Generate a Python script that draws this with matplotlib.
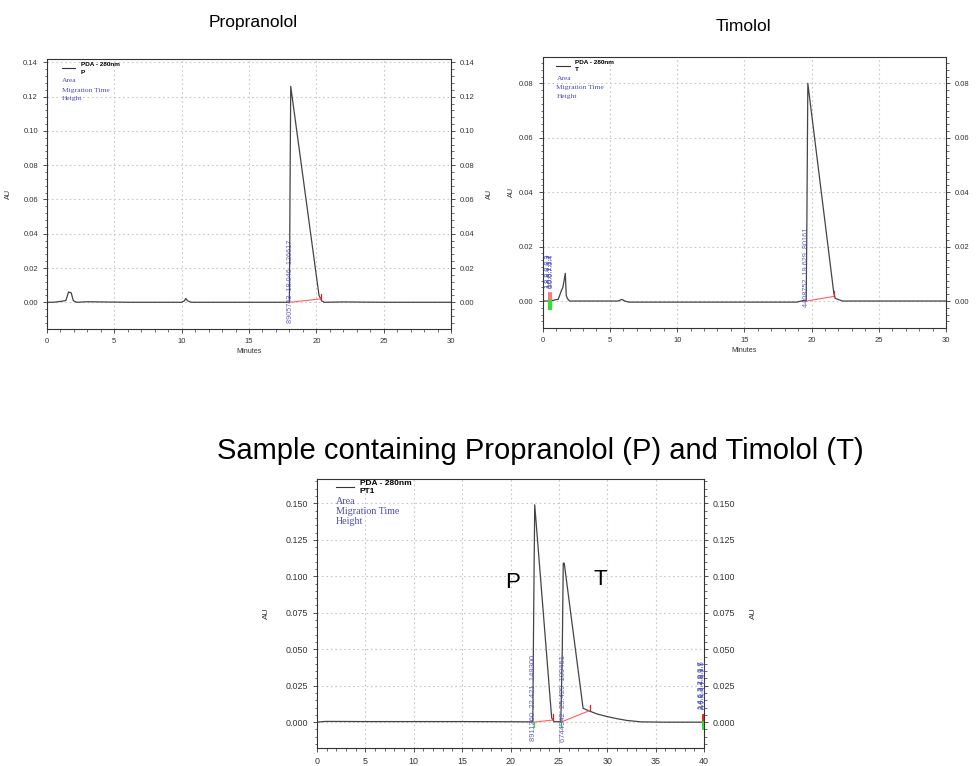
import matplotlib
matplotlib.use("Agg")
import matplotlib.pyplot as plt
from matplotlib.ticker import MultipleLocator, FormatStrFormatter
from matplotlib.lines import Line2D

plt.rcParams['font.family'] = ['Liberation Sans', 'DejaVu Sans']

# ---------------- data ----------------
prop_time = [0.0, 0.5, 1.0, 1.4, 1.6, 1.8, 1.95, 2.2, 3.0, 4.0, 6.0, 8.0, 10.0, 10.2, 10.3, 10.45,
             10.7, 13.0, 16.0, 18.0, 18.05, 18.1, 20.2, 20.4, 20.6, 22.0, 25.0, 28.0, 30.0]
prop_au = [0.0, 0.0, 0.0005, 0.001, 0.006, 0.0055, 0.001, 0.0, 0.0003, 0.0002, 0.0, 0.0, 0.0, 0.0008,
           0.0022, 0.0008, 0.0, 0.0, 0.0, 0.0, 0.068, 0.126, 0.004, 0.0008, 0.0, 0.0002, 0.0, 0.0, 0.0]
prop_base_t = [18.05, 20.35]
prop_base_au = [0.0, 0.002]
prop_label = "8905743  18.046  126617"
prop_label_t = 18.046

tim_time = [0.0, 0.5, 1.0, 1.15, 1.4, 1.5, 1.68, 1.75, 1.85, 2.0, 2.3, 5.6, 5.9, 6.1, 6.4, 10.0,
            15.0, 18.9, 19.4, 19.6, 19.65, 19.72, 21.65, 21.75, 22.3, 25.0, 27.0, 30.0]
tim_au = [0.0, 0.0, 0.0005, 0.0006, 0.004, 0.005, 0.0102, 0.002, 0.0008, 0.0, 0.0, 0.0, 0.0006, 0.0,
          -0.0004, -0.0004, -0.0004, -0.0004, 0.0002, 0.0, 0.03, 0.080, 0.003, 0.001, 0.0, 0.0, 0.0, 0.0]
tim_base_t = [19.63, 21.65]
tim_base_au = [0.0, 0.0017]
tim_label = "4408752  19.629  80161"
tim_label_t = 19.629

mix_time = [0.0, 0.8, 2.0, 5.0, 10.0, 15.0, 20.0, 22.3, 22.4, 22.5, 24.25, 24.5, 25.2, 25.35, 25.45,
            25.55, 27.5, 28.2, 29.0, 30.0, 31.0, 32.0, 33.5, 36.0, 40.0]
mix_au = [0.0, 0.0005, 0.0005, 0.0004, 0.0004, 0.0004, 0.0003, 0.0002, 0.08, 0.149, 0.003, 0.0003,
          0.0003, 0.05, 0.109, 0.109, 0.0095, 0.0075, 0.0055, 0.0038, 0.0024, 0.0012, 0.0002, 0.0,
          0.0]
mix_base_t = [[22.42, 24.4], [25.2, 28.2]]
mix_base_au = [[0.0, 0.0015], [0.0, 0.008]]
mix_labels = ["8911260  22.421  149300", "6744942  25.429  109461"]
mix_label_t = [22.421, 25.429]

titles = ["Propranolol", "Timolol"]
main_title = "Sample containing Propranolol (P) and Timolol (T)"
legend_names = ["P", "T", "PT1"]
legend_head = "PDA - 280nm"
legend_items = ["Area", "Migration Time", "Height"]

BLUE = "#4a4ab8"
RED = "#ff6060"

fig = plt.figure(figsize=(9.77, 7.66), dpi=100)


def setup(ax, xmax, ylim, ymaj, ymin_, fmt, fs, name, lay):
    ax.set_xlim(0, xmax)
    ax.set_ylim(*ylim)
    ax.xaxis.set_major_locator(MultipleLocator(5))
    ax.xaxis.set_minor_locator(MultipleLocator(1))
    ax.yaxis.set_major_locator(MultipleLocator(ymaj))
    ax.yaxis.set_minor_locator(MultipleLocator(ymin_))
    ax.yaxis.set_major_formatter(FormatStrFormatter(fmt))
    ax.grid(True, which='major', color='#c8c8c8', linestyle=(0, (1.5, 2.5)), linewidth=0.8)
    ax.tick_params(which='major', length=3, width=0.6, labelsize=fs, colors='#333333')
    ax.tick_params(which='minor', length=1.8, width=0.5, colors='#333333')
    for s in ax.spines.values():
        s.set_color('#333333')
        s.set_linewidth(0.8)
    ax.set_xlabel("Minutes", fontsize=fs * 0.95, color='#333333')
    ax.xaxis.set_label_coords(0.5, lay['xl'])
    ax.set_ylabel("AU", fontsize=fs * 0.95, color='#333333')
    ax.yaxis.set_label_coords(lay['yl'], 0.5)
    tw = ax.twinx()
    tw.set_ylim(*ylim)
    tw.yaxis.set_major_locator(MultipleLocator(ymaj))
    tw.yaxis.set_minor_locator(MultipleLocator(ymin_))
    tw.yaxis.set_major_formatter(FormatStrFormatter(fmt))
    tw.tick_params(which='major', length=3, width=0.6, labelsize=fs, colors='#333333')
    tw.tick_params(which='minor', length=1.8, width=0.5, colors='#333333')
    if lay['yr'] is not None:
        tw.set_ylabel("AU", fontsize=fs * 0.95, color='#333333', rotation=90)
        tw.yaxis.set_label_coords(lay['yr'], 0.5)
    for s in tw.spines.values():
        s.set_visible(False)
    # legend block
    ys = lay['ly']
    ax.add_line(Line2D(lay['lx'], [ys[0] - 0.012] * 2, transform=ax.transAxes,
                       color='#333333', lw=0.8))
    ax.text(lay['tx'], ys[0], legend_head, transform=ax.transAxes, fontsize=lay['hf'],
            fontweight='bold', va='center', ha='left')
    ax.text(lay['tx'], ys[1], name, transform=ax.transAxes, fontsize=lay['hf'],
            fontweight='bold', va='center', ha='left')
    for i, it in enumerate(legend_items):
        ax.text(lay['lx'][0], ys[2 + i], it, transform=ax.transAxes,
                fontsize=lay['sf'], family='Liberation Serif', color=BLUE, va='center', ha='left')


def peak_label(ax, t, txt, yc, fs):
    ax.text(t, yc, txt, rotation=90, fontsize=fs, color=BLUE, alpha=0.85, ha='center', va='center')


top_lay_l = dict(xl=-0.07, yl=-0.087, yr=1.087, lx=[0.036, 0.070], tx=0.083,
                 ly=[0.980, 0.951, 0.919, 0.885, 0.854], hf=4.6, sf=5.4)
top_lay_r = dict(xl=-0.07, yl=-0.069, yr=None, lx=[0.034, 0.068], tx=0.081,
                 ly=[0.979, 0.951, 0.918, 0.886, 0.854], hf=4.6, sf=5.4)
bot_lay = dict(xl=-0.13, yl=-0.121, yr=1.119, lx=[0.048, 0.096], tx=0.111,
               ly=[0.983, 0.953, 0.916, 0.879, 0.844], hf=6.0, sf=7.2)

# Propranolol
ax1 = fig.add_axes([0.0481, 0.5705, 0.4135, 0.3525])
setup(ax1, 30, (-0.0156, 0.142), 0.02, 0.004, '%.2f', 5.5, legend_names[0], top_lay_l)
ax1.plot(prop_time, prop_au, color='#444444', lw=0.9)
ax1.plot(prop_base_t, prop_base_au, color=RED, lw=0.8)
ax1.plot([prop_base_t[1]] * 2, [prop_base_au[1], prop_base_au[1] + 0.003], color='#dd2222', lw=0.9)
peak_label(ax1, prop_label_t, prop_label, 0.0125, 5.2)

# Timolol
ax2 = fig.add_axes([0.5555, 0.5722, 0.4128, 0.3538])
setup(ax2, 30, (-0.0098, 0.0898), 0.02, 0.0025, '%.2f', 5.5, legend_names[1], top_lay_r)
ax2.plot(tim_time, tim_au, color='#444444', lw=0.9)
ax2.plot(tim_base_t, tim_base_au, color=RED, lw=0.8)
ax2.plot([tim_base_t[1]] * 2, [tim_base_au[1], tim_base_au[1] + 0.002], color='#dd2222', lw=0.9)
peak_label(ax2, tim_label_t, tim_label, 0.0125, 5.2)
for dx in (0.45, 0.58):
    ax2.plot([dx, dx], [0, 0.003], color=RED, lw=1.2)
    ax2.plot([dx, dx], [0, -0.003], color='#33dd33', lw=1.6)
for dx, s in ((0.42, "1.8.8.0.0.3"), (0.5, "1.6.6.1.1.7"), (0.6, "0.0.6.7.0.4")):
    ax2.text(dx, 0.011, s, rotation=90, fontsize=5.2, color=BLUE, ha='center', va='center')

# Mixture
ax3 = fig.add_axes([0.3245, 0.0239, 0.3961, 0.3504])
setup(ax3, 40, (-0.0175, 0.1665), 0.025, 0.005, '%.3f', 6.4, legend_names[2], bot_lay)
ax3.plot(mix_time, mix_au, color='#444444', lw=0.9)
for bt, ba in zip(mix_base_t, mix_base_au):
    ax3.plot(bt, ba, color=RED, lw=0.8)
    ax3.plot([bt[1]] * 2, [ba[1], ba[1] + 0.004], color='#dd2222', lw=0.9)
    ax3.plot([bt[0]] * 2, [0, -0.003], color='#33dd33', lw=0.9)
for t, s in zip(mix_label_t, mix_labels):
    peak_label(ax3, t, s, 0.0165, 5.5)
ax3.plot([39.9, 39.9], [0, 0.005], color='#ee2222', lw=1.4, clip_on=False)
ax3.plot([39.9, 39.9], [0, -0.005], color='#33dd33', lw=1.4, clip_on=False)
for dx, s in ((39.7, "1.4.6.3.2.9.0.7"), (39.85, "2.6.1.3.4.8.1.5"), (40.0, "0.7.5.3.1.9.2.1")):
    ax3.text(dx, 0.026, s, rotation=90, fontsize=5.5, color=BLUE, ha='center', va='center',
             clip_on=False)

ax3.text(20.26, 0.0955, "P", fontsize=16, ha='center', va='center')
ax3.text(29.25, 0.0975, "T", fontsize=16, ha='center', va='center')

fig.text(0.259, 0.970, titles[0], fontsize=12.5, ha='center', va='center')
fig.text(0.761, 0.965, titles[1], fontsize=12.5, ha='center', va='center')
fig.text(0.553, 0.411, main_title, fontsize=21, ha='center', va='center')

fig.savefig("out.png", dpi=100)
